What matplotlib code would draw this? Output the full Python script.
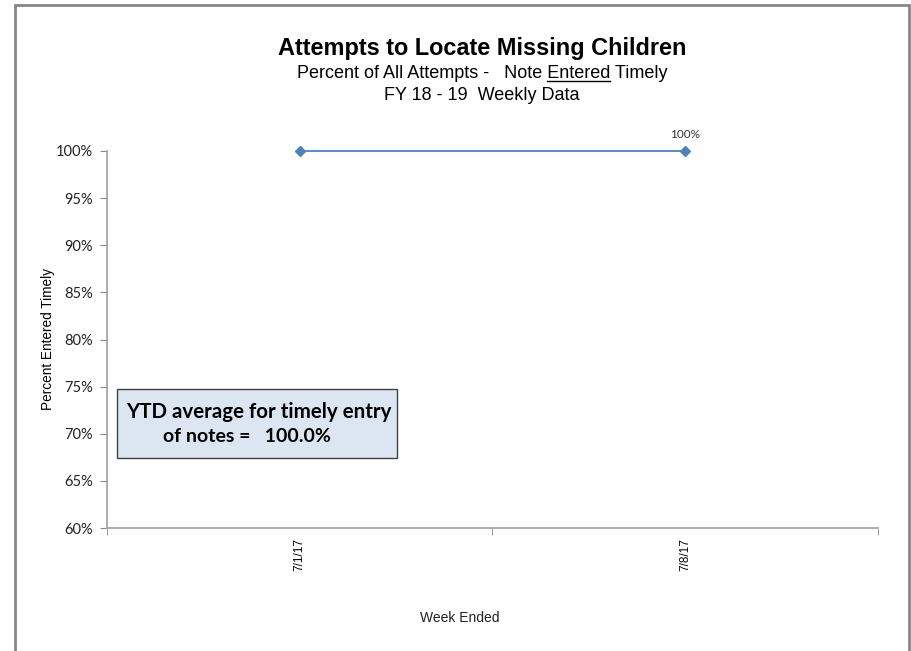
import matplotlib.pyplot as plt
from matplotlib.patches import Rectangle
from matplotlib.ticker import FuncFormatter, FixedLocator

# data
weeks = ['7/1/17', '7/8/17']
pct_timely = [1.00, 1.00]
ytd_avg = 1.00

fig = plt.figure(figsize=(9.12, 6.51), dpi=100)

# outer grey frame
fig.patches.append(Rectangle((15 / 912, -0.05), (909 - 15) / 912, 1.05 - 5 / 651,
                             transform=fig.transFigure, fill=False,
                             edgecolor='#878787', linewidth=2))

ax = fig.add_axes([107 / 912, 1 - 528 / 651, (878 - 107) / 912, (528 - 151) / 651])

x = list(range(len(weeks)))
ax.plot(x, pct_timely, color='#4f81bd', linewidth=1.3, marker='D', markersize=5,
        markerfacecolor='#4f81bd', markeredgecolor='#4f81bd', clip_on=False)
ax.annotate(f'{pct_timely[-1]:.0%}', (x[-1], pct_timely[-1]), xytext=(0, 8),
            textcoords='offset points', ha='center', va='bottom',
            fontsize=8.5, family='Lato', color='#333333')

ax.set_xlim(-0.5, len(weeks) - 0.5)
ax.set_ylim(0.60, 1.00)
ax.yaxis.set_major_locator(FixedLocator([0.60 + 0.05 * i for i in range(9)]))
ax.yaxis.set_major_formatter(FuncFormatter(lambda v, p: f'{v:.0%}'))
for lab in ax.get_yticklabels():
    lab.set_family('Lato')
    lab.set_fontsize(10.5)
    lab.set_color('#222222')

ax.set_xticks(x)
ax.set_xticklabels(weeks, rotation=90, fontsize=8.5, family='Liberation Sans')
ax.tick_params(axis='x', length=0, pad=7)
ax.set_xticks([i - 0.5 for i in range(len(weeks) + 1)], minor=True)
ax.tick_params(axis='x', which='minor', length=5, color='#888888', direction='out')
ax.tick_params(axis='y', length=5, color='#888888', direction='out', pad=5)

for s in ['top', 'right']:
    ax.spines[s].set_visible(False)
for s in ['left', 'bottom']:
    ax.spines[s].set_color('#a0a0a0')
    ax.spines[s].set_linewidth(1.2)

ax.set_ylabel('Percent Entered Timely', fontsize=9.8, family='Liberation Sans', labelpad=1)
fig.text(460 / 912, 1 - 618 / 651, 'Week Ended', ha='center', va='center',
         fontsize=10, family='Liberation Sans', color='#222222')

# titles
fig.text(482 / 912, 1 - 49 / 651, 'Attempts to Locate Missing Children', ha='center', va='center',
         fontsize=16.9, fontweight='bold', family='Liberation Sans')
sub_pre = 'Percent of All Attempts -   Note '
sub_word = 'Entered'
sub_full = sub_pre + sub_word + ' Timely'
sub = fig.text(482 / 912, 1 - 73 / 651, sub_full, ha='center',
               va='center', fontsize=13, family='Liberation Sans')
fig.text(482 / 912, 1 - 95 / 651, 'FY 18 - 19  Weekly Data', ha='center', va='center',
         fontsize=13, family='Liberation Sans')

# underline "Entered" measured from the rendered subtitle
r = fig.canvas.get_renderer()
bb_full = sub.get_window_extent(r)
tmp = fig.text(0, 0, sub_pre + 'E', fontsize=13, family='Liberation Sans')
w_pre = tmp.get_window_extent(r).width
tmp.set_text(sub_pre + sub_word)
w_word = tmp.get_window_extent(r).width
tmp.set_text('E')
w_e = tmp.get_window_extent(r).width
tmp.remove()
x0 = bb_full.x0 + w_pre - w_e
x1 = bb_full.x0 + w_word
uy = bb_full.y0 + 1
fig.add_artist(plt.Line2D([x0 / 912, x1 / 912], [uy / 651, uy / 651],
                          transform=fig.transFigure, color='black', linewidth=1))

# YTD box
fig.patches.append(Rectangle((117 / 912, 1 - 458 / 651), (397 - 117) / 912, (458 - 389) / 651,
                             transform=fig.transFigure, facecolor='#dce6f2',
                             edgecolor='#404040', linewidth=1))
fig.text(126 / 912, 1 - 412 / 651, 'YTD average for timely entry', ha='left', va='center',
         fontsize=14.8, fontweight='bold', family='Lato')
fig.text(163 / 912, 1 - 436 / 651, f'of notes =   {ytd_avg:.1%}', ha='left', va='center',
         fontsize=14, fontweight='bold', family='Lato')

fig.savefig('out.png', dpi=100)
